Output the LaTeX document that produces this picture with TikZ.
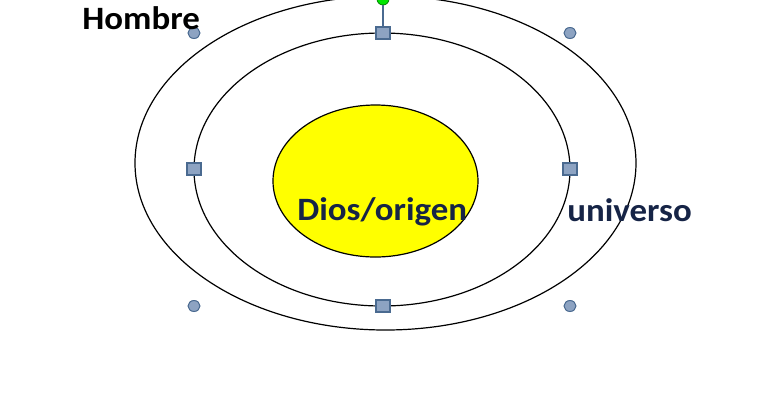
\documentclass[tikz,border=0pt]{standalone}
\usepackage{fontspec}
\setmainfont{Carlito}[FakeStretch=1.07]
\usepackage{tikz}

\definecolor{sunyellow}{RGB}{255,255,0}
\definecolor{labelnavy}{RGB}{22,36,70}
\definecolor{handlefill}{RGB}{141,163,194}
\definecolor{handleedge}{RGB}{74,106,144}
\definecolor{rotgreen}{RGB}{0,230,0}

\tikzset{
    orbit/.style={draw=black, line width=0.6pt},
    sqhandle/.style={draw=handleedge, fill=handlefill, line width=0.6pt, minimum width=7pt, minimum height=6pt, inner sep=0pt},
    dothandle/.style={draw=handleedge, fill=handlefill, line width=0.5pt, ellipse, minimum width=6pt, minimum height=5.5pt, inner sep=0pt},
    bigword/.style={font=\fontsize{16.3}{19}\selectfont\bfseries, inner sep=0pt, anchor=base west}
}
\usetikzlibrary{shapes.geometric}

\begin{document}
\begin{tikzpicture}[x=0.5pt, y=-0.5pt]
    \useasboundingbox (0,0) rectangle (768,404);

    % Outer orbit (universo)
    \draw[orbit] (385.5,163) ellipse [x radius=250.5, y radius=167];

    % Middle orbit, the selected one
    \draw[orbit] (382,169.5) ellipse [x radius=188, y radius=136.5];

    % The yellow centre
    \draw[line width=0.6pt, fill=sunyellow] (375.5,181) ellipse [x radius=102.5, y radius=76];

    % Selection handles of the middle orbit
    \node[sqhandle] (htop) at (383,33) {};
    \node[sqhandle] (hleft) at (194,169) {};
    \node[sqhandle] (hright) at (570,169) {};
    \node[sqhandle] (hbottom) at (383,306) {};
    \node[dothandle] (cnw) at (194,33) {};
    \node[dothandle] (cne) at (570,33) {};
    \node[dothandle] (csw) at (194,306) {};
    \node[dothandle] (cse) at (570,306) {};

    % Rotation handle on top
    \node[circle, draw=green!50!black, fill=rotgreen, minimum size=6pt, inner sep=0pt] (rot) at (383,-1) {};
    \draw[handleedge, line width=0.8pt] (rot) -- (htop);

    % Labels
    \node[bigword, text=black] (hombre) at (82,29) {Hombre};
    \node[bigword, text=labelnavy] (dios) at (297,220.5) {Dios/origen};
    \node[bigword, text=labelnavy] (universo) at (567,221) {universo};
\end{tikzpicture}
\end{document}
